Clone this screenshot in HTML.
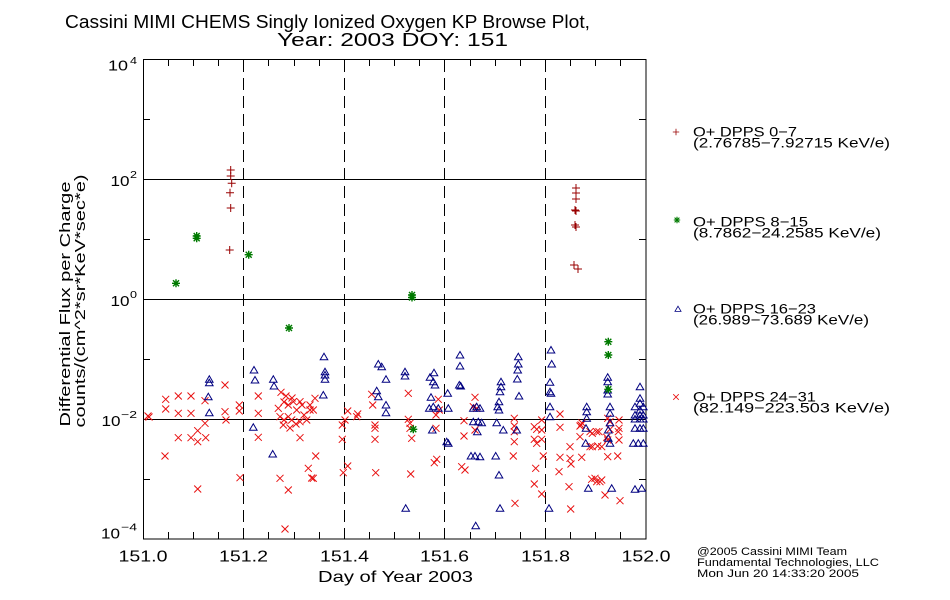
<!DOCTYPE html>
<html><head><meta charset="utf-8"><style>
html,body{margin:0;padding:0;background:#fff;}
svg{display:block;}
text{font-family:"Liberation Sans",sans-serif;fill:#000;}
</style></head><body>
<svg width="950" height="600" viewBox="0 0 950 600" xmlns="http://www.w3.org/2000/svg">
<defs>
<path id="xm" d="M-3.5,-3.5L3.5,3.5M-3.5,3.5L3.5,-3.5" stroke="#e81010" stroke-width="1" fill="none"/>
<path id="tr" d="M0,-3.5L3.8,3L-3.8,3Z" stroke="#000080" stroke-width="1" fill="none"/>
<path id="pl" d="M-4,0H4M0,-4V4" stroke="#990000" stroke-width="1" fill="none"/>
<path id="st" d="M-4,0H4M0,-4V4M-3,-3L3,3M-3,3L3,-3" stroke="#007a00" stroke-width="1.4" fill="none"/>
</defs>
<rect width="950" height="600" fill="#fff"/>

<!-- Title -->
<text x="65" y="28" font-size="18" textLength="525" lengthAdjust="spacingAndGlyphs">Cassini MIMI CHEMS Singly Ionized Oxygen KP Browse Plot,</text>
<text x="277" y="46" font-size="18" textLength="231" lengthAdjust="spacingAndGlyphs">Year: 2003 DOY: 151</text>

<!-- Grid lines -->
<g stroke="#000" stroke-width="1" fill="none">
<line x1="143" y1="179.5" x2="646" y2="179.5"/>
<line x1="143" y1="299.5" x2="646" y2="299.5"/>
<line x1="143" y1="419.5" x2="646" y2="419.5"/>
</g>
<g stroke="#000" stroke-width="1" stroke-dasharray="12,6">
<line x1="243.5" y1="60" x2="243.5" y2="539"/>
<line x1="344.5" y1="60" x2="344.5" y2="539"/>
<line x1="444.5" y1="60" x2="444.5" y2="539"/>
<line x1="545.5" y1="60" x2="545.5" y2="539"/>
</g>
<!-- Ticks -->
<g stroke="#000" stroke-width="1">
<line x1="168.5" y1="539" x2="168.5" y2="532"/><line x1="193.5" y1="539" x2="193.5" y2="532"/><line x1="218.5" y1="539" x2="218.5" y2="532"/>
<line x1="268.5" y1="539" x2="268.5" y2="532"/><line x1="294.5" y1="539" x2="294.5" y2="532"/><line x1="319.5" y1="539" x2="319.5" y2="532"/>
<line x1="369.5" y1="539" x2="369.5" y2="532"/><line x1="394.5" y1="539" x2="394.5" y2="532"/><line x1="419.5" y1="539" x2="419.5" y2="532"/>
<line x1="470.5" y1="539" x2="470.5" y2="532"/><line x1="495.5" y1="539" x2="495.5" y2="532"/><line x1="520.5" y1="539" x2="520.5" y2="532"/>
<line x1="570.5" y1="539" x2="570.5" y2="532"/><line x1="595.5" y1="539" x2="595.5" y2="532"/><line x1="620.5" y1="539" x2="620.5" y2="532"/>
<line x1="168.5" y1="59" x2="168.5" y2="66"/><line x1="193.5" y1="59" x2="193.5" y2="66"/><line x1="218.5" y1="59" x2="218.5" y2="66"/>
<line x1="268.5" y1="59" x2="268.5" y2="66"/><line x1="294.5" y1="59" x2="294.5" y2="66"/><line x1="319.5" y1="59" x2="319.5" y2="66"/>
<line x1="369.5" y1="59" x2="369.5" y2="66"/><line x1="394.5" y1="59" x2="394.5" y2="66"/><line x1="419.5" y1="59" x2="419.5" y2="66"/>
<line x1="470.5" y1="59" x2="470.5" y2="66"/><line x1="495.5" y1="59" x2="495.5" y2="66"/><line x1="520.5" y1="59" x2="520.5" y2="66"/>
<line x1="570.5" y1="59" x2="570.5" y2="66"/><line x1="595.5" y1="59" x2="595.5" y2="66"/><line x1="620.5" y1="59" x2="620.5" y2="66"/>
<line x1="143" y1="119.5" x2="150" y2="119.5"/><line x1="143" y1="239.5" x2="150" y2="239.5"/><line x1="143" y1="359.5" x2="150" y2="359.5"/><line x1="143" y1="479.5" x2="150" y2="479.5"/>
<line x1="646" y1="119.5" x2="639" y2="119.5"/><line x1="646" y1="239.5" x2="639" y2="239.5"/><line x1="646" y1="359.5" x2="639" y2="359.5"/><line x1="646" y1="479.5" x2="639" y2="479.5"/>
</g>
<rect x="143.5" y="59.5" width="502.5" height="479.5" fill="none" stroke="#000" stroke-width="1"/>

<!-- Y tick labels -->
<g font-size="15">
<text x="108" y="70.5" textLength="20" lengthAdjust="spacingAndGlyphs">10</text>
<text x="130" y="64" font-size="10" textLength="7" lengthAdjust="spacingAndGlyphs">4</text>
<text x="110.5" y="186" textLength="19" lengthAdjust="spacingAndGlyphs">10</text>
<text x="130" y="178" font-size="10" textLength="7" lengthAdjust="spacingAndGlyphs">2</text>
<text x="110.5" y="306" textLength="19" lengthAdjust="spacingAndGlyphs">10</text>
<text x="130" y="298" font-size="10" textLength="7" lengthAdjust="spacingAndGlyphs">0</text>
<text x="101.5" y="426" textLength="19" lengthAdjust="spacingAndGlyphs">10</text>
<text x="121" y="418" font-size="10" textLength="16" lengthAdjust="spacingAndGlyphs">−2</text>
<text x="101" y="538.5" textLength="19" lengthAdjust="spacingAndGlyphs">10</text>
<text x="121" y="530.5" font-size="10" textLength="16" lengthAdjust="spacingAndGlyphs">−4</text>
</g>

<!-- X tick labels -->
<g font-size="16" text-anchor="middle">
<text x="143" y="561.5" textLength="49" lengthAdjust="spacingAndGlyphs">151.0</text>
<text x="243.5" y="561.5" textLength="49" lengthAdjust="spacingAndGlyphs">151.2</text>
<text x="344.5" y="561.5" textLength="49" lengthAdjust="spacingAndGlyphs">151.4</text>
<text x="444.5" y="561.5" textLength="49" lengthAdjust="spacingAndGlyphs">151.6</text>
<text x="545.5" y="561.5" textLength="49" lengthAdjust="spacingAndGlyphs">151.8</text>
<text x="646" y="561.5" textLength="49" lengthAdjust="spacingAndGlyphs">152.0</text>
</g>
<text x="318" y="582" font-size="16" textLength="155" lengthAdjust="spacingAndGlyphs">Day of Year 2003</text>

<!-- Y axis title -->
<text transform="translate(70,304) rotate(-90)" font-size="15" text-anchor="middle" textLength="245" lengthAdjust="spacingAndGlyphs">Differential Flux per Charge</text>
<text transform="translate(85,301) rotate(-90)" font-size="15" text-anchor="middle" textLength="253" lengthAdjust="spacingAndGlyphs">counts/(cm^2*sr*KeV*sec*e)</text>

<!-- Red x: DPPS 24-31 -->
<g>
<use href="#xm" x="148" y="416"/><use href="#xm" x="149" y="417"/>
<use href="#xm" x="165.7" y="399.3"/><use href="#xm" x="165.7" y="409"/><use href="#xm" x="178.3" y="396"/><use href="#xm" x="191" y="396"/>
<use href="#xm" x="178.3" y="413.3"/><use href="#xm" x="191" y="413.3"/><use href="#xm" x="205" y="400.7"/><use href="#xm" x="205" y="423.3"/>
<use href="#xm" x="197.7" y="430.7"/><use href="#xm" x="178.3" y="437.7"/><use href="#xm" x="191" y="437.7"/><use href="#xm" x="197.7" y="441.7"/>
<use href="#xm" x="205.7" y="437.7"/><use href="#xm" x="165" y="456"/><use href="#xm" x="197.7" y="489"/><use href="#xm" x="225" y="385"/>
<use href="#xm" x="225" y="411.7"/><use href="#xm" x="226" y="420"/><use href="#xm" x="239.3" y="405"/><use href="#xm" x="239.3" y="411"/>
<use href="#xm" x="240" y="477.7"/><use href="#xm" x="258.3" y="396"/><use href="#xm" x="258.3" y="413.3"/><use href="#xm" x="258.3" y="437.3"/>
<use href="#xm" x="281" y="392.3"/><use href="#xm" x="284" y="402"/><use href="#xm" x="278.3" y="408.3"/><use href="#xm" x="288.3" y="405"/>
<use href="#xm" x="293.3" y="401.7"/><use href="#xm" x="300" y="401.7"/><use href="#xm" x="296.7" y="410"/><use href="#xm" x="280" y="416.7"/>
<use href="#xm" x="288.3" y="416.7"/><use href="#xm" x="283.3" y="425"/><use href="#xm" x="291.7" y="420"/><use href="#xm" x="300" y="421.7"/>
<use href="#xm" x="306.7" y="420"/><use href="#xm" x="310" y="410"/><use href="#xm" x="300" y="437.7"/><use href="#xm" x="308.3" y="468.3"/>
<use href="#xm" x="311.7" y="478"/><use href="#xm" x="280" y="478.3"/><use href="#xm" x="288.3" y="490"/><use href="#xm" x="285" y="529"/>
<use href="#xm" x="286" y="396"/><use href="#xm" x="292" y="398"/><use href="#xm" x="302" y="405"/><use href="#xm" x="284" y="420"/>
<use href="#xm" x="296" y="424"/><use href="#xm" x="290" y="428"/><use href="#xm" x="304" y="415"/>
<use href="#xm" x="315" y="398.3"/><use href="#xm" x="313.3" y="410"/><use href="#xm" x="310" y="405"/><use href="#xm" x="315.7" y="456"/>
<use href="#xm" x="313.3" y="478.3"/><use href="#xm" x="347.7" y="411"/><use href="#xm" x="345" y="420"/><use href="#xm" x="342.3" y="425"/>
<use href="#xm" x="342.3" y="439.3"/><use href="#xm" x="347.7" y="466"/><use href="#xm" x="343.3" y="472.7"/><use href="#xm" x="357.7" y="414"/>
<use href="#xm" x="356.7" y="416.7"/><use href="#xm" x="371.7" y="394.3"/><use href="#xm" x="372.7" y="405"/><use href="#xm" x="375" y="425"/>
<use href="#xm" x="375" y="428.3"/><use href="#xm" x="375" y="439.3"/><use href="#xm" x="375.7" y="472.7"/><use href="#xm" x="408.3" y="393.3"/>
<use href="#xm" x="408.3" y="419.3"/><use href="#xm" x="410" y="423.3"/><use href="#xm" x="410" y="428.3"/><use href="#xm" x="411.7" y="438.3"/>
<use href="#xm" x="410.7" y="474"/><use href="#xm" x="438.3" y="399.3"/><use href="#xm" x="439.3" y="410"/><use href="#xm" x="436" y="415"/>
<use href="#xm" x="436" y="428.3"/><use href="#xm" x="436.7" y="459.3"/><use href="#xm" x="434.3" y="462.7"/><use href="#xm" x="464" y="420.7"/>
<use href="#xm" x="464" y="436"/><use href="#xm" x="461.7" y="466.7"/><use href="#xm" x="465" y="470"/><use href="#xm" x="475" y="397.3"/>
<use href="#xm" x="473.3" y="406.7"/><use href="#xm" x="476.7" y="408.3"/><use href="#xm" x="475" y="430"/>
<use href="#xm" x="514.3" y="418.3"/><use href="#xm" x="514.3" y="426"/><use href="#xm" x="514.3" y="431.7"/><use href="#xm" x="514.3" y="441.7"/>
<use href="#xm" x="513.3" y="456"/><use href="#xm" x="515" y="503.3"/><use href="#xm" x="534.3" y="426.7"/><use href="#xm" x="536.7" y="429.3"/>
<use href="#xm" x="541.7" y="420"/><use href="#xm" x="541.7" y="430"/><use href="#xm" x="534.3" y="439.3"/><use href="#xm" x="536.7" y="443.3"/>
<use href="#xm" x="541.7" y="439.3"/><use href="#xm" x="543.3" y="456"/><use href="#xm" x="535.7" y="468.3"/><use href="#xm" x="534.3" y="484"/>
<use href="#xm" x="541.7" y="494"/><use href="#xm" x="560" y="414"/><use href="#xm" x="560" y="427.3"/><use href="#xm" x="560" y="457.3"/>
<use href="#xm" x="559" y="471.7"/><use href="#xm" x="569" y="486.7"/><use href="#xm" x="570.7" y="509"/><use href="#xm" x="570" y="446.7"/>
<use href="#xm" x="570" y="458.3"/><use href="#xm" x="571" y="464"/><use href="#xm" x="581" y="425"/><use href="#xm" x="582" y="423"/><use href="#xm" x="580" y="426"/>
<use href="#xm" x="580" y="436.7"/><use href="#xm" x="581.7" y="457.3"/><use href="#xm" x="592.3" y="433.3"/><use href="#xm" x="592.3" y="446.7"/>
<use href="#xm" x="597.7" y="446"/><use href="#xm" x="601.7" y="446.7"/><use href="#xm" x="599" y="431.7"/><use href="#xm" x="591.7" y="479.3"/>
<use href="#xm" x="596.7" y="481.7"/><use href="#xm" x="601.7" y="480"/><use href="#xm" x="605" y="495"/><use href="#xm" x="607.7" y="418.3"/>
<use href="#xm" x="610" y="421.7"/><use href="#xm" x="607.7" y="440"/><use href="#xm" x="607.7" y="456.7"/><use href="#xm" x="619" y="420"/>
<use href="#xm" x="619" y="428.3"/><use href="#xm" x="619" y="440"/><use href="#xm" x="617.7" y="456"/><use href="#xm" x="620" y="500.7"/>
<use href="#xm" x="590" y="431.7"/><use href="#xm" x="596.7" y="431.7"/><use href="#xm" x="590" y="446.7"/><use href="#xm" x="610" y="429.3"/>
<use href="#xm" x="606.7" y="437.3"/><use href="#xm" x="618.3" y="431.7"/><use href="#xm" x="595" y="478.3"/><use href="#xm" x="600" y="481.7"/>
</g>

<!-- Blue triangles: DPPS 16-23 -->
<g>
<use href="#tr" x="209.3" y="379.3"/><use href="#tr" x="209.3" y="382.7"/><use href="#tr" x="208.3" y="396.7"/><use href="#tr" x="209.3" y="412.7"/>
<use href="#tr" x="254" y="370"/><use href="#tr" x="255" y="380"/><use href="#tr" x="253.3" y="427.3"/><use href="#tr" x="273.3" y="379.3"/>
<use href="#tr" x="274" y="386"/><use href="#tr" x="272.7" y="454"/>
<use href="#tr" x="324" y="356.7"/><use href="#tr" x="325" y="371.7"/><use href="#tr" x="325" y="375"/><use href="#tr" x="325" y="379.3"/>
<use href="#tr" x="323.3" y="395"/><use href="#tr" x="378.3" y="364"/><use href="#tr" x="381.7" y="366.7"/><use href="#tr" x="386" y="379.3"/>
<use href="#tr" x="376.7" y="390.7"/><use href="#tr" x="378.3" y="396.7"/><use href="#tr" x="386" y="405"/><use href="#tr" x="386" y="412.7"/>
<use href="#tr" x="405" y="371.7"/><use href="#tr" x="405" y="376"/><use href="#tr" x="430" y="377.3"/><use href="#tr" x="434" y="372.7"/>
<use href="#tr" x="433.3" y="381.7"/><use href="#tr" x="435" y="385"/><use href="#tr" x="431" y="397.3"/><use href="#tr" x="429.3" y="408.3"/>
<use href="#tr" x="433.3" y="406.7"/><use href="#tr" x="438.3" y="408.3"/><use href="#tr" x="432.3" y="430"/><use href="#tr" x="447.7" y="393.3"/>
<use href="#tr" x="448.3" y="408.3"/><use href="#tr" x="446.7" y="441.7"/><use href="#tr" x="448.3" y="443.3"/><use href="#tr" x="460" y="355"/>
<use href="#tr" x="460" y="366"/><use href="#tr" x="459.3" y="385"/><use href="#tr" x="460.7" y="386"/><use href="#tr" x="473.3" y="408.3"/>
<use href="#tr" x="476.7" y="406.7"/><use href="#tr" x="480" y="408.3"/><use href="#tr" x="473.3" y="421.7"/><use href="#tr" x="478.3" y="421.7"/>
<use href="#tr" x="481.7" y="422.7"/><use href="#tr" x="477.3" y="431.7"/><use href="#tr" x="471" y="456"/><use href="#tr" x="475" y="456"/>
<use href="#tr" x="480" y="456.7"/><use href="#tr" x="405.7" y="508.3"/><use href="#tr" x="475.7" y="525.7"/>
<use href="#tr" x="501" y="381.7"/><use href="#tr" x="501" y="386.7"/><use href="#tr" x="500" y="391.7"/><use href="#tr" x="499" y="401.7"/>
<use href="#tr" x="497.7" y="406.7"/><use href="#tr" x="499" y="410"/><use href="#tr" x="496.7" y="422.7"/><use href="#tr" x="503.3" y="430"/>
<use href="#tr" x="495.7" y="456"/><use href="#tr" x="499" y="475"/><use href="#tr" x="500" y="508.3"/><use href="#tr" x="518.3" y="356.7"/>
<use href="#tr" x="518.3" y="364"/><use href="#tr" x="517.7" y="370"/><use href="#tr" x="517.3" y="379"/><use href="#tr" x="519" y="396"/>
<use href="#tr" x="516.7" y="430"/><use href="#tr" x="551" y="350"/><use href="#tr" x="551.7" y="364"/><use href="#tr" x="550" y="382.3"/>
<use href="#tr" x="550" y="391.7"/><use href="#tr" x="551" y="393.3"/><use href="#tr" x="550" y="406.7"/><use href="#tr" x="550" y="416.7"/>
<use href="#tr" x="549" y="508.3"/><use href="#tr" x="586.7" y="406.7"/><use href="#tr" x="586.7" y="411.7"/><use href="#tr" x="586.7" y="418.3"/>
<use href="#tr" x="586" y="428.3"/><use href="#tr" x="585.7" y="443.3"/><use href="#tr" x="588.3" y="488.3"/><use href="#tr" x="607.7" y="377.3"/>
<use href="#tr" x="607.7" y="381.7"/><use href="#tr" x="607.7" y="390"/><use href="#tr" x="607.7" y="394"/><use href="#tr" x="610" y="406.7"/>
<use href="#tr" x="610" y="413.3"/><use href="#tr" x="610" y="422.7"/><use href="#tr" x="608.3" y="430"/><use href="#tr" x="608.3" y="438.3"/>
<use href="#tr" x="610" y="443.3"/><use href="#tr" x="611.7" y="488.3"/><use href="#tr" x="640" y="386.7"/><use href="#tr" x="640" y="398.3"/>
<use href="#tr" x="640" y="403.3"/><use href="#tr" x="635" y="406.7"/><use href="#tr" x="640" y="410"/><use href="#tr" x="643.3" y="406.7"/>
<use href="#tr" x="635" y="415"/><use href="#tr" x="640" y="415"/><use href="#tr" x="643.3" y="415"/><use href="#tr" x="635" y="419"/>
<use href="#tr" x="640" y="419"/><use href="#tr" x="643.3" y="419"/><use href="#tr" x="635" y="428.3"/><use href="#tr" x="640" y="428.3"/>
<use href="#tr" x="643.3" y="428.3"/><use href="#tr" x="633.3" y="443.3"/><use href="#tr" x="638.3" y="443.3"/><use href="#tr" x="643.3" y="443.3"/>
<use href="#tr" x="635" y="489.3"/><use href="#tr" x="641.7" y="488.3"/>
</g>

<!-- Green stars: DPPS 8-15 -->
<g>
<use href="#st" x="176" y="283.3"/><use href="#st" x="196.7" y="236"/><use href="#st" x="196.7" y="238.3"/><use href="#st" x="248.7" y="254.7"/>
<use href="#st" x="289" y="328"/><use href="#st" x="412" y="295"/><use href="#st" x="412" y="297.5"/><use href="#st" x="413.3" y="429.3"/>
<use href="#st" x="608.3" y="341.7"/><use href="#st" x="608.3" y="355"/><use href="#st" x="608.3" y="389.3"/>
</g>

<!-- Dark red plus: DPPS 0-7 -->
<g>
<use href="#pl" x="230.7" y="170"/><use href="#pl" x="230.7" y="176"/><use href="#pl" x="231.7" y="183.3"/><use href="#pl" x="230" y="192.7"/>
<use href="#pl" x="230.7" y="208"/><use href="#pl" x="229.7" y="250"/>
<use href="#pl" x="576" y="188"/><use href="#pl" x="576" y="193"/><use href="#pl" x="576" y="199"/><use href="#pl" x="575" y="210"/>
<use href="#pl" x="576" y="211"/><use href="#pl" x="575" y="225"/><use href="#pl" x="576" y="227"/><use href="#pl" x="574" y="265"/><use href="#pl" x="578" y="269"/>
</g>

<!-- Legend -->
<g transform="translate(676,132) scale(0.8)"><use href="#pl"/></g>
<g transform="translate(677,220) scale(0.8)"><use href="#st"/></g>
<g transform="translate(678,309) scale(0.8)"><use href="#tr"/></g>
<g transform="translate(676,397) scale(0.8)"><use href="#xm"/></g>
<g font-size="14">
<text x="693" y="136.5" textLength="104" lengthAdjust="spacingAndGlyphs">O+ DPPS 0−7</text>
<text x="693" y="147.5" textLength="197" lengthAdjust="spacingAndGlyphs">(2.76785−7.92715 KeV/e)</text>
<text x="693" y="226.5" textLength="115" lengthAdjust="spacingAndGlyphs">O+ DPPS 8−15</text>
<text x="693" y="237.5" textLength="188" lengthAdjust="spacingAndGlyphs">(8.7862−24.2585 KeV/e)</text>
<text x="693" y="313.5" textLength="123" lengthAdjust="spacingAndGlyphs">O+ DPPS 16−23</text>
<text x="693" y="324.5" textLength="176" lengthAdjust="spacingAndGlyphs">(26.989−73.689 KeV/e)</text>
<text x="693" y="401.5" textLength="123" lengthAdjust="spacingAndGlyphs">O+ DPPS 24−31</text>
<text x="693" y="412.5" textLength="197" lengthAdjust="spacingAndGlyphs">(82.149−223.503 KeV/e)</text>
</g>

<!-- Footer -->
<g font-size="11">
<text x="697" y="555" textLength="150" lengthAdjust="spacingAndGlyphs">@2005 Cassini MIMI Team</text>
<text x="697" y="566" textLength="182" lengthAdjust="spacingAndGlyphs">Fundamental Technologies, LLC</text>
<text x="697" y="577" textLength="162" lengthAdjust="spacingAndGlyphs">Mon Jun 20 14:33:20 2005</text>
</g>
</svg>
</body></html>
